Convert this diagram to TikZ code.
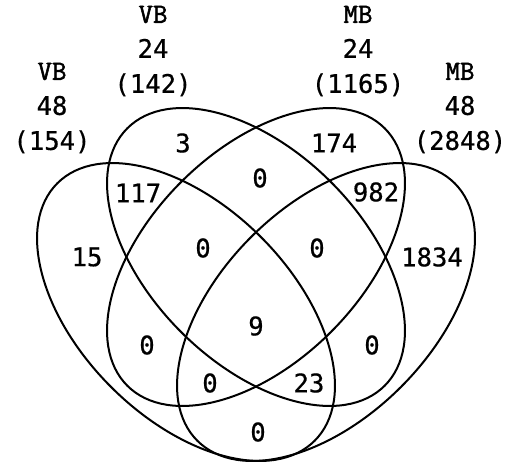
\documentclass[tikz,border=0pt]{standalone}
\usepackage{fontspec}
\setmainfont{DejaVu Sans Mono}[FakeBold=0.6]
\newfontfamily\setnamefont{Latin Modern Mono}[FakeBold=1.8]
\usetikzlibrary{shapes.geometric}
\tikzset{
  setellipse/.style={
    ellipse, draw=black, line width=1pt,
    minimum width=182pt, minimum height=106pt,
    inner sep=0pt, outer sep=0pt
  },
  setlabel/.style={
    align=center, inner sep=0pt,
    font=\fontsize{12.8}{17.5}\selectfont
  },
  countlabel/.style={inner sep=0pt, font=\fontsize{12.8}{15}\selectfont}
}
\newcommand{\setname}[1]{{\setnamefont\fontsize{14}{17.5}\selectfont #1}}

\begin{document}
\begin{tikzpicture}[x=0.5pt, y=-0.5pt]
    \useasboundingbox (0,0) rectangle (508,461);
    % the four sets
    \node[setellipse, rotate=-45] (vb48) at (186,312) {};
    \node[setellipse, rotate=-45] (vb24) at (256,257) {};
    \node[setellipse, rotate=45] (mb24) at (256,257) {};
    \node[setellipse, rotate=45] (mb48) at (326,312) {};
    % set names
    \node[setlabel] (lvb48) at (52,108) {\setname{VB}\\48\\(154)};
    \node[setlabel] (lvb24) at (153,51) {\setname{VB}\\24\\(142)};
    \node[setlabel] (lmb24) at (358,51) {\setname{MB}\\24\\(1165)};
    \node[setlabel] (lmb48) at (460,108) {\setname{MB}\\48\\(2848)};
    % counts
    \node[countlabel] (cA) at (87,257) {15};
    \node[countlabel] (cB) at (183,143) {3};
    \node[countlabel] (cC) at (334,143) {174};
    \node[countlabel] (cD) at (432,257) {1834};
    \node[countlabel] (cAB) at (138,193) {117};
    \node[countlabel] (cCD) at (376,192) {982};
    \node[countlabel] (cBC) at (260,178) {0};
    \node[countlabel] (cABC) at (203,248) {0};
    \node[countlabel] (cBCD) at (317,248) {0};
    \node[countlabel] (cABCD) at (256,326) {9};
    \node[countlabel] (cAC) at (147,345) {0};
    \node[countlabel] (cBD) at (372,345) {0};
    \node[countlabel] (cACD) at (210,383) {0};
    \node[countlabel] (cABD) at (309,383) {23};
    \node[countlabel] (cAD) at (258,432) {0};
  \end{tikzpicture}
\end{document}
